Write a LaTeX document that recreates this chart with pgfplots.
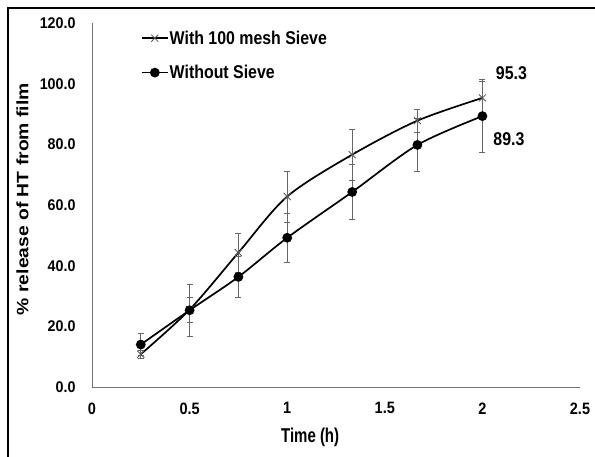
\documentclass[border=0pt]{standalone}
\usepackage{pgfplots}
\pgfplotsset{compat=1.18}
\usepackage{pgfplotstable}
\usepackage{fontspec}
\setmainfont{Liberation Sans}
\newfontfamily\condA[FakeStretch=0.86]{Liberation Sans}
\newfontfamily\condB[FakeStretch=0.75]{Liberation Sans}
\newfontfamily\condC[FakeStretch=0.92]{Liberation Sans}
\newfontfamily\condD[FakeStretch=0.88]{Liberation Sans}
\newfontfamily\expA[FakeStretch=1.17]{Liberation Sans}
\pgfplotstableread{
x y e
0.25 10.8 1.2
0.5 25.5 4.2
0.75 44.3 6.5
1.0 62.8 8.4
1.333 76.6 8.5
1.667 87.8 3.7
2.0 95.3 5.5
}\withsieve
\pgfplotstableread{
x y e
0.25 14.0 3.6
0.5 25.3 8.6
0.75 36.3 6.8
1.0 49.2 8.0
1.333 64.3 9.0
1.667 79.8 8.7
2.0 89.3 12.0
}\withoutsieve
\begin{document}
\begin{tikzpicture}
\useasboundingbox (0pt,0pt) rectangle (595pt,456pt);
\draw[line width=2pt] (8pt,-5pt) -- (8pt,448pt) -- (600pt,448pt);
\begin{axis}[
  at={(92pt,69pt)}, anchor=south west,
  scale only axis, width=488pt, height=364pt,
  xmin=0, xmax=2.5, ymin=0, ymax=120,
  xtick={0,0.5,1,1.5,2,2.5},
  ytick={0,20,40,60,80,100,120},
  axis x line*=bottom, axis y line*=left,
  axis line style={black!55, line width=0.8pt},
  major tick length=0pt,
  /pgf/number format/assume math mode=true,
  yticklabel style={font=\condC\bfseries\fontsize{15.5}{15.5}\selectfont, /pgf/number format/fixed, /pgf/number format/fixed zerofill, /pgf/number format/precision=1, xshift=-13pt},
  xticklabel style={font=\condD\bfseries\fontsize{16.5}{16.5}\selectfont, yshift=-12pt},
  xlabel={Time (h)},
  xlabel style={at={(axis description cs:0.447,0)}, anchor=center, yshift=-50.5pt, font=\condB\bfseries\fontsize{20}{20}\selectfont},
  ylabel={\% release of HT from film},
  ylabel style={at={(axis description cs:-0.1424,0.516)}, anchor=center, font=\expA\bfseries\fontsize{16.5}{16.5}\selectfont},
  clip=false,
  legend style={draw=none, fill=none, at={(axis description cs:0.1,0.982)}, anchor=north west,
    font=\condA\bfseries\fontsize{18.5}{18.5}\selectfont, inner sep=0pt, row sep=17.5pt,
    nodes={inner sep=1pt}},
  legend cell align=left,
  legend image code/.code={\draw[mark repeat=2,mark phase=2] plot coordinates {(0pt,0pt)(13pt,0pt)(26pt,0pt)};},
]
\addplot[black, line width=1.7pt, smooth, tension=0.5,
  mark=x, mark size=5pt, mark options={black!65, line width=0.8pt},
  error bars/.cd, y dir=both, y explicit,
  error bar style={black!60, line width=0.7pt},
  error mark options={rotate=90, mark size=3pt, black!60, line width=0.7pt}]
  table[x=x, y=y, y error=e] {\withsieve};
\addlegendentry{With 100 mesh Sieve}
\addplot[black, line width=1.7pt, smooth, tension=0.5,
  mark=*, mark size=4pt, mark options={black},
  error bars/.cd, y dir=both, y explicit,
  error bar style={black!60, line width=0.7pt},
  error mark options={rotate=90, mark size=3pt, black!60, line width=0.7pt}]
  table[x=x, y=y, y error=e] {\withoutsieve};
\addlegendentry{Without Sieve}
\node[font=\condA\bfseries\fontsize{18.5}{18.5}\selectfont] at (axis cs:2,95.3) [xshift=29pt, yshift=25pt] {95.3};
\node[font=\condA\bfseries\fontsize{18.5}{18.5}\selectfont] at (axis cs:2,89.3) [xshift=26.5pt, yshift=-23pt] {89.3};
\end{axis}
\end{tikzpicture}
\end{document}
